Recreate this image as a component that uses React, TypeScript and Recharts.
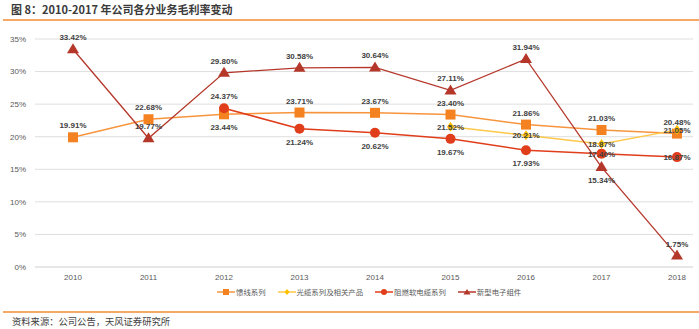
import React from "react";
import { LineChart, Line, XAxis, YAxis, CartesianGrid, LabelList } from "recharts";

const years = ["2010", "2011", "2012", "2013", "2014", "2015", "2016", "2017", "2018"];
const feeder = [19.91, 22.68, 23.44, 23.71, 23.67, 23.4, 21.86, 21.03, 20.48];
const opticalCable = [null, null, null, null, null, 21.52, 20.21, 18.87, 21.05];
const flameCable = [null, null, 24.37, 21.24, 20.62, 19.67, 17.93, 17.4, 16.87];
const electronic = [33.42, 19.77, 29.8, 30.58, 30.64, 27.11, 31.94, 15.34, 1.75];
const yTicks = [0, 5, 10, 15, 20, 25, 30, 35];

// where each value label sits relative to its point
const feederLabelPos = ["up", "up", "down", "up", "up", "up", "up", "up", "up"];
const opticalLabelPos = ["mid", "mid", "mid", "mid", "mid", "mid", "mid", "mid", "mid"];
const flameLabelPos = ["mid", "mid", "up", "down", "down", "down", "down", "mid", "mid"];
const electronicLabelPos = ["up", "up", "up", "up", "up", "up", "up", "down", "up"];

const seriesNames = ["馈线系列", "光缆系列及相关产品", "阻燃软电缆系列", "新型电子组件"];

const C_FEEDER = "#F58220";
const C_FEEDER_LINE = "#F7953F";
const C_OPTICAL = "#FFC000";
const C_OPTICAL_LINE = "#FFC84A";
const C_FLAME = "#E03E1B";
const C_ELEC = "#B5372A";

const data = years.map((y, i) => ({
  year: y,
  feeder: feeder[i],
  optical: opticalCable[i],
  flame: flameCable[i],
  elec: electronic[i],
}));

type Shape = "square" | "diamond" | "circle" | "triangle";

const marker = (shape: Shape, color: string, cx: number, cy: number, key?: any) => {
  if (shape === "square")
    return <rect key={key} x={cx - 5} y={cy - 5} width={10} height={10} fill={color} />;
  if (shape === "circle") return <circle key={key} cx={cx} cy={cy} r={5} fill={color} />;
  if (shape === "diamond")
    return (
      <polygon
        key={key}
        points={`${cx},${cy - 5} ${cx + 3.5},${cy} ${cx},${cy + 5} ${cx - 3.5},${cy}`}
        fill={color}
      />
    );
  return (
    <polygon
      key={key}
      points={`${cx},${cy - 6} ${cx + 6},${cy + 4} ${cx - 6},${cy + 4}`}
      fill={color}
    />
  );
};

const makeDot = (shape: Shape, color: string) => (props: any) => {
  const { cx, cy, index, value } = props;
  if (cy == null || isNaN(cy) || value == null) return <g key={`d${index}`} />;
  return marker(shape, color, cx, cy, `d${index}`);
};

const makeLabel = (pos: string[]) => (props: any) => {
  const { x, y, value, index } = props;
  if (value == null || y == null || isNaN(y)) return null;
  const p = pos[index];
  const dy = p === "up" ? -9 : p === "down" ? 16 : 3;
  return (
    <text
      key={`l${index}`}
      x={x}
      y={y + dy}
      textAnchor="middle"
      fontSize={8}
      fontWeight="bold"
      fill="#404040"
      fontFamily="'Liberation Sans', Arial, sans-serif"
    >
      {`${Number(value).toFixed(2)}%`}
    </text>
  );
};

const legendItems: { shape: Shape; color: string; line: string }[] = [
  { shape: "square", color: C_FEEDER, line: C_FEEDER_LINE },
  { shape: "diamond", color: C_OPTICAL, line: C_OPTICAL_LINE },
  { shape: "circle", color: C_FLAME, line: C_FLAME },
  { shape: "triangle", color: C_ELEC, line: C_ELEC },
];

const App = () => {
  return (
    <div
      style={{
        position: "relative",
        width: 699,
        height: 329,
        background: "#fff",
        overflow: "hidden",
        fontFamily: "'Noto Sans CJK SC', sans-serif",
      }}
    >
      <style>{"body{margin:0}"}</style>
      <div
        style={{
          position: "absolute",
          left: 11,
          top: 2,
          fontSize: 11,
          fontWeight: "bold",
          color: "#3a3a3a",
          lineHeight: "14px",
          whiteSpace: "nowrap",
        }}
      >
        图 8：2010-2017 年公司各分业务毛利率变动
      </div>
      <div
        style={{ position: "absolute", left: 3, right: 0, top: 19, height: 1.5, background: "#F6A867" }}
      />
      <div style={{ position: "absolute", left: 0, top: 0 }}>
        <LineChart
          width={699}
          height={300}
          data={data}
          margin={{ top: 39, right: 6, left: 0, bottom: 0 }}
        >
          <CartesianGrid vertical={false} stroke="#dedede" />
          <XAxis
            dataKey="year"
            padding={{ left: 38, right: 16 }}
            height={33}
            axisLine={{ stroke: "#dedede" }}
            tickLine={false}
            tick={{ fontSize: 8, fill: "#595959", fontFamily: "'Liberation Sans', Arial" }}
            tickMargin={1}
          />
          <YAxis
            width={35}
            domain={[0, 35]}
            ticks={yTicks}
            axisLine={false}
            tickLine={false}
            tickFormatter={(v: number) => `${v}%`}
            tick={{ fontSize: 8, fill: "#595959", fontFamily: "'Liberation Sans', Arial" }}
            tickMargin={3}
          />
          <Line
            dataKey="feeder"
            stroke={C_FEEDER_LINE}
            strokeWidth={1.5}
            dot={makeDot("square", C_FEEDER)}
            isAnimationActive={false}
          >
            <LabelList dataKey="feeder" content={makeLabel(feederLabelPos)} />
          </Line>
          <Line
            dataKey="optical"
            stroke={C_OPTICAL_LINE}
            strokeWidth={1.5}
            dot={makeDot("diamond", C_OPTICAL)}
            isAnimationActive={false}
          >
            <LabelList dataKey="optical" content={makeLabel(opticalLabelPos)} />
          </Line>
          <Line
            dataKey="flame"
            stroke={C_FLAME}
            strokeWidth={1.5}
            dot={makeDot("circle", C_FLAME)}
            isAnimationActive={false}
          >
            <LabelList dataKey="flame" content={makeLabel(flameLabelPos)} />
          </Line>
          <Line
            dataKey="elec"
            stroke={C_ELEC}
            strokeWidth={1.3}
            dot={makeDot("triangle", C_ELEC)}
            isAnimationActive={false}
          >
            <LabelList dataKey="elec" content={makeLabel(electronicLabelPos)} />
          </Line>
        </LineChart>
      </div>
      <div
        style={{
          position: "absolute",
          left: 217,
          top: 286,
          display: "flex",
          alignItems: "center",
          fontSize: 7.4,
          color: "#595959",
          lineHeight: "12px",
          whiteSpace: "nowrap",
        }}
      >
        {legendItems.map((it, i) => (
          <div key={i} style={{ display: "flex", alignItems: "center", marginRight: 12 }}>
            <svg width={18} height={12} style={{ marginRight: 1 }}>
              <line x1={0} y1={6} x2={18} y2={6} stroke={it.line} strokeWidth={1.5} />
              {it.shape === "square" && <rect x={6} y={3} width={6} height={6} fill={it.color} />}
              {it.shape === "circle" && <circle cx={9} cy={6} r={3} fill={it.color} />}
              {it.shape === "diamond" && (
                <polygon points="9,3 11.5,6 9,9 6.5,6" fill={it.color} />
              )}
              {it.shape === "triangle" && <polygon points="9,3 12.5,8.5 5.5,8.5" fill={it.color} />}
            </svg>
            <span>{seriesNames[i]}</span>
          </div>
        ))}
      </div>
      <div
        style={{ position: "absolute", left: 3, right: 0, top: 311, height: 1.5, background: "#F6A867" }}
      />
      <div
        style={{
          position: "absolute",
          left: 12,
          top: 315,
          fontSize: 9.3,
          color: "#404040",
          lineHeight: "13px",
          whiteSpace: "nowrap",
        }}
      >
        资料来源：公司公告，天风证券研究所
      </div>
    </div>
  );
};

export default App;
